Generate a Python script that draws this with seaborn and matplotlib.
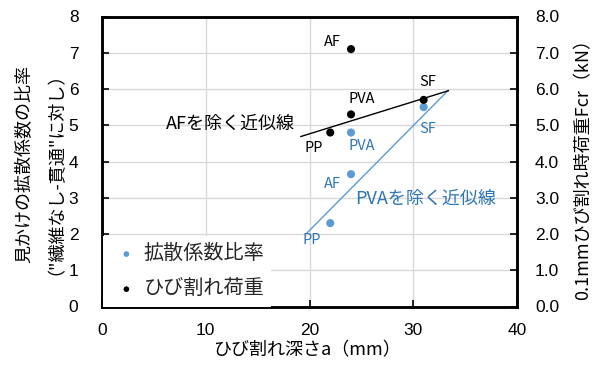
import numpy as np
import matplotlib
matplotlib.use("Agg")
import matplotlib.pyplot as plt
import seaborn as sns

# Fibre types and measurements
fibers = ["PP", "AF", "PVA", "SF"]
crack_depth = [22, 24, 24, 31]            # ひび割れ深さ a (mm)
diffusion_ratio = [2.3, 3.65, 4.8, 5.5]   # 見かけの拡散係数の比率
crack_load = [4.8, 7.1, 5.3, 5.7]         # 0.1mm ひび割れ時荷重 Fcr (kN)

# Approximation line excluding AF (fitted to crack load), drawn over this span
afless_span = [19.15, 33.4]
# Approximation line excluding PVA (diffusion ratio), end points
pvaless_x = [19.73, 33.4]
pvaless_y = [2.02, 5.97]

x_ticks = [0, 10, 20, 30, 40]
left_ticks = [0, 1, 2, 3, 4, 5, 6, 7, 8]
right_ticks = [0, 1, 2, 3, 4, 5, 6, 7, 8]

sns.set_theme(style="whitegrid")
jp = ["Noto Sans CJK JP", "DejaVu Sans"]
plt.rcParams["font.family"] = jp

BLUE_PT = "#5b9bd5"
BLUE_TX = "#2e75b6"

fig = plt.figure(figsize=(5.93, 3.67), dpi=100)
W, H = 593, 367
ax = fig.add_axes([102 / W, (H - 306.5) / H, 415 / W, 290 / H])
ax2 = ax.twinx()

sns.scatterplot(x=crack_depth, y=diffusion_ratio, ax=ax, color=BLUE_PT, s=34,
                edgecolor="none", label="拡散係数比率", legend=False, zorder=3)
sns.scatterplot(x=crack_depth, y=crack_load, ax=ax2, color="black", s=34,
                edgecolor="none", label="ひび割れ荷重", legend=False, zorder=3)

# Linear fit of crack load without AF
keep = [i for i, f in enumerate(fibers) if f != "AF"]
coef = np.polyfit(np.array(crack_depth)[keep], np.array(crack_load)[keep], 1)
fx = np.array(afless_span)
sns.lineplot(x=fx, y=np.polyval(coef, fx), ax=ax2, color="black", lw=1.0,
             legend=False, zorder=2)
sns.lineplot(x=pvaless_x, y=pvaless_y, ax=ax, color=BLUE_PT, lw=1.0,
             legend=False, zorder=2)

# Point labels (pixel offsets from each marker)
blue_off = {"PP": (-18, -17), "AF": (-19, -10), "PVA": (11, -14), "SF": (4, -22)}
black_off = {"PP": (-17, -15), "AF": (-19, 7), "PVA": (11, 15), "SF": (4, 18)}
for f, x, yb, yk in zip(fibers, crack_depth, diffusion_ratio, crack_load):
    ax.annotate(f, (x, yb), xytext=blue_off[f], textcoords="offset pixels",
                ha="center", va="center", color=BLUE_TX, fontsize=10.5)
    ax2.annotate(f, (x, yk), xytext=black_off[f], textcoords="offset pixels",
                 ha="center", va="center", color="black", fontsize=10.5)

ax.text(12.34, 5.03, "AFを除く近似線", ha="center", va="center",
        fontsize=13, color="black")
ax.text(31.2, 2.96, "PVAを除く近似線", ha="center", va="center",
        fontsize=13, color=BLUE_TX)

for a in (ax, ax2):
    a.set_xlim(0, 40)
    a.set_ylim(0, 8)
    for s in a.spines.values():
        s.set_color("black")
        s.set_linewidth(1.8)
ax.set_xticks(x_ticks)
ax.set_yticks(left_ticks)
ax2.set_yticks(right_ticks)
ax2.set_yticklabels([f"{v:.1f}" for v in right_ticks])
ax.grid(True, color="#d9d9d9", lw=1.0)
ax2.grid(False)

num_font = {"family": "Liberation Sans", "size": 12.5}
ax.tick_params(axis="both", direction="in", length=5, width=1.2, color="black")
ax.tick_params(axis="y", pad=17, left=True)
ax.tick_params(axis="x", pad=12, bottom=True)
ax2.tick_params(axis="y", direction="in", length=5, width=1.2, color="black",
                pad=13, right=True)
for lab in ax.get_xticklabels() + ax.get_yticklabels() + ax2.get_yticklabels():
    lab.set_fontproperties(num_font)
    lab.set_color("black")

ax.set_xlabel("ひび割れ深さa（mm）", fontsize=13, color="black")
ax.xaxis.set_label_coords(0.494, -0.15)
ax.xaxis.label.set_va("center")
ax.set_ylabel("見かけの拡散係数の比率\n（\"繊維なし-貫通\"に対し）", fontsize=13,
              color="black", linespacing=1.35)
ax.yaxis.label.set_va("center")
ax.yaxis.set_label_coords(-0.160, 0.49)
ax2.set_ylabel("0.1mmひび割れ時荷重Fcr（kN）", fontsize=13, color="black",
               rotation=90)
ax2.yaxis.label.set_va("center")
ax2.yaxis.set_label_coords(1.159, 0.488)

h1, l1 = ax.get_legend_handles_labels()
h2, l2 = ax2.get_legend_handles_labels()
leg = ax2.legend(h1 + h2, l1 + l2, loc="lower left", bbox_to_anchor=(0.003, 0.0),
                 borderaxespad=0.0, frameon=True, facecolor="white",
                 edgecolor="none", framealpha=1, fancybox=False, fontsize=14.5,
                 markerscale=0.7, handletextpad=0.05, labelspacing=0.7,
                 borderpad=0.35, handlelength=1.6)

fig.savefig("out.png", dpi=100)
